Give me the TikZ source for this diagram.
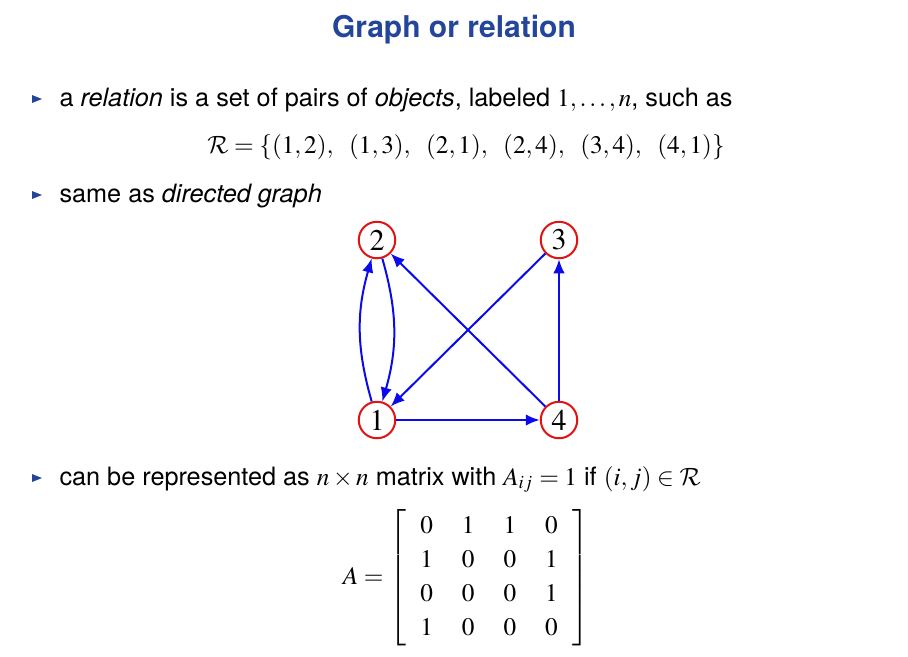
\documentclass[tikz,border=0pt]{standalone}
\usepackage{mathptmx}
\usepackage[no-math]{fontspec}
\setmainfont{TeX Gyre Heros}
\DeclareMathAlphabet{\mathcal}{OMS}{cmsy}{m}{n}
\usetikzlibrary{arrows.meta}

\definecolor{slideblue}{RGB}{35,70,155}
\definecolor{edgeblue}{RGB}{10,10,235}
\definecolor{vertexred}{RGB}{225,20,20}

\begin{document}
\begin{tikzpicture}[
  x=0.4pt, y=-0.4pt,
  font=\fontsize{10.1}{12}\selectfont,
  title/.style={font=\fontsize{12}{14}\selectfont\bfseries, text=slideblue},
  item/.style={anchor=base west, inner sep=0pt},
  vertex/.style={circle, draw=vertexred, line width=0.8pt, minimum size=14.6pt, inner sep=0pt, font=\fontsize{12}{14}\selectfont},
  edge/.style={-{Latex[length=5.6pt, width=4.6pt]}, draw=edgeblue, line width=0.8pt}
]
\useasboundingbox (0,0) rectangle (908,656);

\node (title) [title] at (454,30) {Graph or relation};

% bullets
\foreach \y in {99,195,478}
  \fill [slideblue] (32,\y-4) -- (42,\y) -- (32,\y+4) -- cycle;

\node (line1) [item] at (59,106) {a \textit{relation} is a set of pairs of \textit{objects}, labeled $1,\ldots,n$, such as};
\node (rel)   at (466,147) {$\mathcal{R} = \{(1,2),\ \;(1,3),\ \;(2,1),\ \;(2,4),\ \;(3,4),\ \;(4,1)\}$};
\node (line2) [item] at (59,202) {same as \textit{directed graph}};

% the graph
\node (v1) [vertex] at (377,420) {$1$};
\node (v2) [vertex] at (377,240) {$2$};
\node (v3) [vertex] at (559,240) {$3$};
\node (v4) [vertex] at (559,420) {$4$};

\draw [edge] (v1) to[bend left=16] (v2);
\draw [edge] (v2) to[bend left=16] (v1);
\draw [edge] (v1) -- (v4);
\draw [edge] (v4) -- (v3);
\draw [edge] (v3) -- (v1);
\draw [edge] (v4) -- (v2);

\node (line3) [item] at (59,485) {can be represented as $n\times n$ matrix with $A_{ij} = 1$ if $(i,j)\in\mathcal{R}$};

{\renewcommand{\arraystretch}{1.13}\setlength{\arraycolsep}{5.8pt}
\node (mat) at (466,578) {$A = \left[\begin{array}{cccc}
  0 & 1 & 1 & 0\\
  1 & 0 & 0 & 1\\
  0 & 0 & 0 & 1\\
  1 & 0 & 0 & 0
\end{array}\right]$};}
\end{tikzpicture}
\end{document}
